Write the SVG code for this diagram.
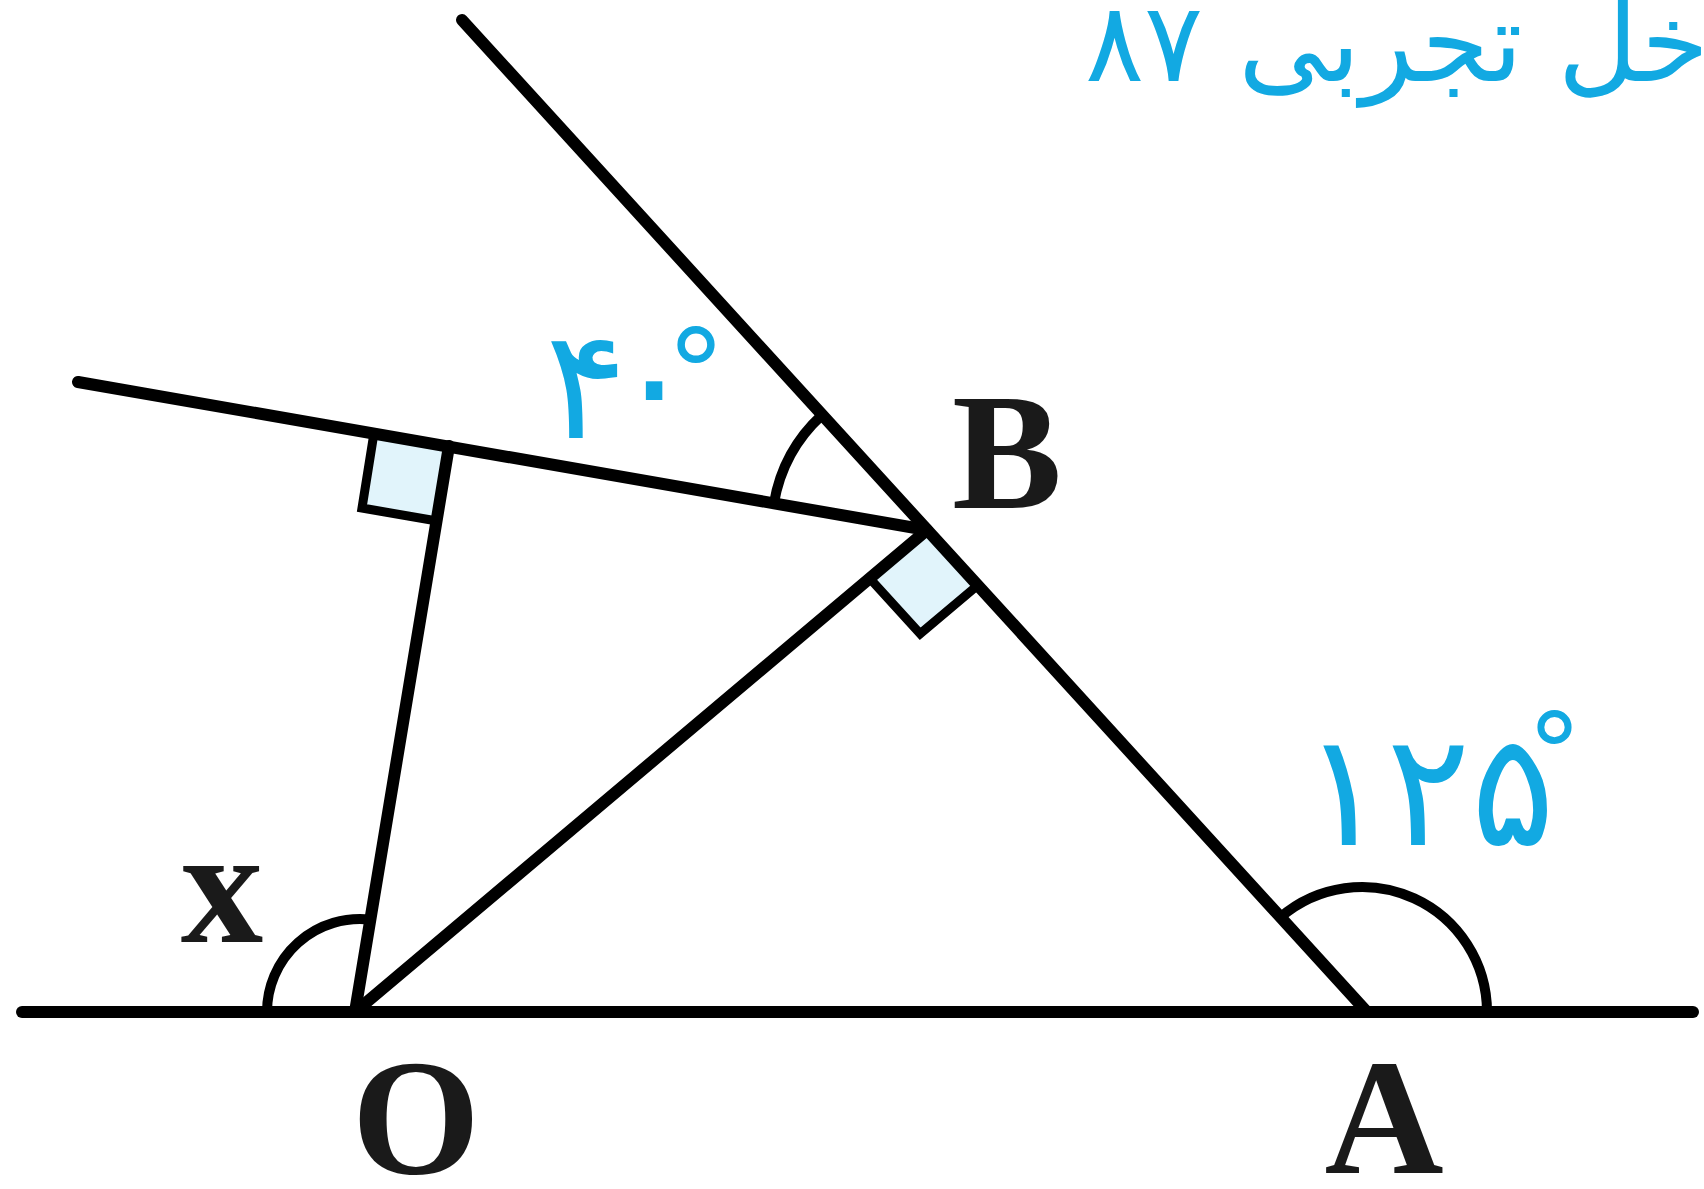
<svg xmlns="http://www.w3.org/2000/svg" width="1704" height="1189" viewBox="0 0 1704 1189">
<style>
.ln{stroke:#000;stroke-width:12;stroke-linecap:round;fill:none}
.arc{stroke:#000;stroke-width:10;fill:none}
.sq{stroke:#000;stroke-width:9;fill:#e1f4fb;stroke-linejoin:miter}
.lbl{font-family:"Liberation Serif","Times New Roman",serif;font-weight:bold;font-size:165px;fill:#1a1a1a}
.blue{font-family:"DejaVu Sans","Noto Sans",sans-serif;fill:#12a9e2}
</style>
<rect width="1704" height="1189" fill="#fff"/>
<g id="right-angle-foot"><polygon class="sq" points="449,446 374,433 362,508 437,521"/></g>
<g id="right-angle-B"><polygon class="sq" points="927,530 869.6,578.3 920.2,633.7 977.6,585.4"/></g>
<g id="connectors">
<line class="ln" x1="22" y1="1012" x2="1693" y2="1012"/>
<line class="ln" x1="462" y1="20" x2="1367" y2="1012"/>
<line class="ln" x1="78" y1="382" x2="927" y2="530"/>
<line class="ln" x1="355" y1="1012" x2="449" y2="446"/>
<line class="ln" x1="355" y1="1012" x2="927" y2="530"/>
</g>
<g id="angle-B"><path class="arc" d="M774,503 A155,155 0 0 1 822,415"/></g>
<g id="angle-A"><path class="arc" d="M1280.5,917.2 A125,125 0 0 1 1487,1012"/></g>
<g id="angle-O"><path class="arc" d="M267,1012 A93,93 0 0 1 370.3,919.6"/></g>
<g id="label-B"><text class="lbl" x="952" y="508">B</text></g>
<g id="label-O"><text class="lbl" x="416" y="1173" text-anchor="middle">O</text></g>
<g id="label-A"><text class="lbl" x="1384" y="1173" text-anchor="middle">A</text></g>
<g id="label-x"><text class="lbl" x="222" y="942" text-anchor="middle">x</text></g>
<g id="label-40"><text class="blue" font-size="153"><tspan x="545" y="438">۴</tspan><tspan x="613" y="434">۰</tspan><tspan x="666" y="415" font-size="120">°</tspan></text></g>
<g id="label-125"><text class="blue" font-size="157"><tspan x="1302" y="845">۱۲۵</tspan><tspan x="1527" y="792" font-size="110">°</tspan></text></g>
<g id="title"><text class="blue" font-size="110" x="1085" y="81">خل تجربی ۸۷</text></g>
</svg>
